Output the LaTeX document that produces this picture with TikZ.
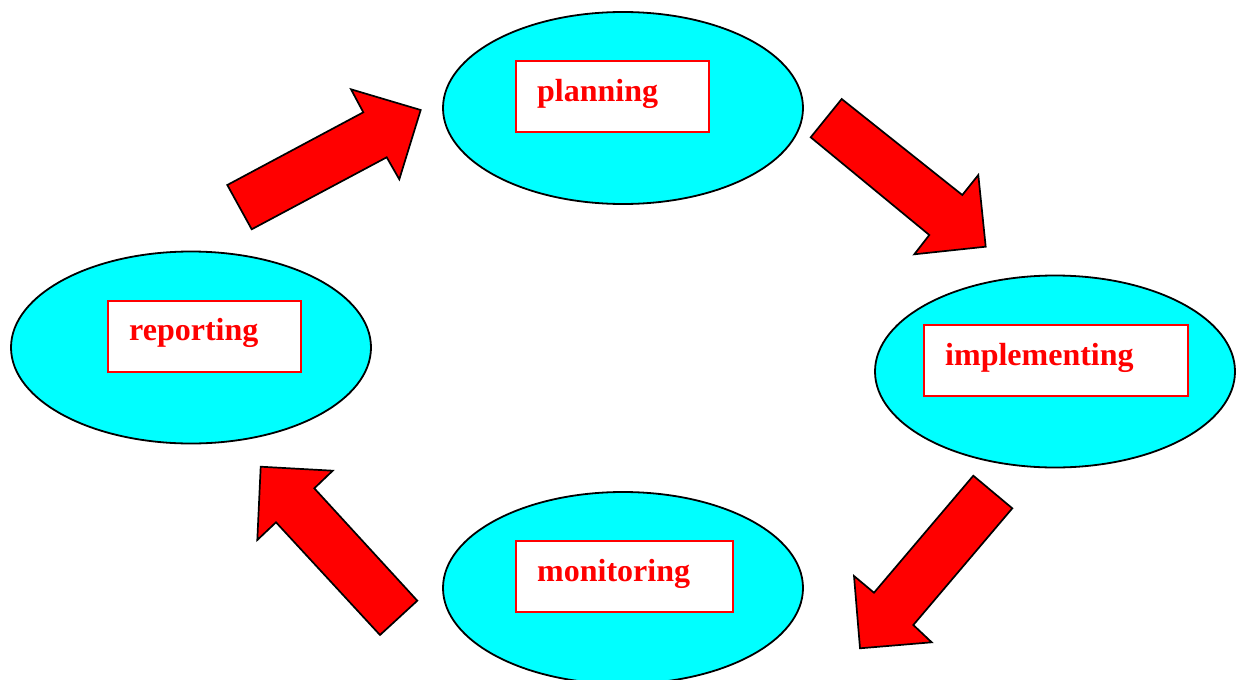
\documentclass[tikz,border=0pt]{standalone}
\usepackage{fontspec}
\setmainfont{Liberation Serif}
\usetikzlibrary{shapes.geometric}
\definecolor{cyanfill}{HTML}{00FFFF}
\definecolor{pured}{HTML}{FF0000}
\begin{document}
\begin{tikzpicture}[x=1pt,y=-1pt,
  stage/.style={ellipse,draw=black,line width=1.8pt,fill=cyanfill,minimum width=360pt,minimum height=192pt,inner sep=0pt},
  labelbox/.style={rectangle,draw=pured,line width=1.8pt,fill=white,minimum height=71pt,inner sep=0pt},
  labeltext/.style={anchor=base west,inner sep=0pt,text=pured,font=\fontsize{32}{36}\selectfont\bfseries},
  blockarrow/.style={draw=black,line width=1.7pt,fill=pured,line join=miter}]
\useasboundingbox (0,0) rectangle (1245,680);
% stages
\node[stage] (plan) at (623,108) {};
\node[stage] (impl) at (1055,371.5) {};
\node[stage] (moni) at (623,588) {};
\node[stage] (repo) at (191,347.5) {};
% label boxes
\node[labelbox,minimum width=193pt,anchor=north west] (planbox) at (515,60) {};
\node[labeltext] (plantext) at (537,101) {planning};
\node[labelbox,minimum width=264pt,anchor=north west] (implbox) at (923,324) {};
\node[labeltext] (impltext) at (945,365) {implementing};
\node[labelbox,minimum width=217pt,anchor=north west] (monibox) at (515,540) {};
\node[labeltext] (monitext) at (537,581) {monitoring};
\node[labelbox,minimum width=193pt,anchor=north west] (repobox) at (107,300) {};
\node[labeltext] (repotext) at (129,340) {reporting};
% block arrows
\draw[blockarrow] (227.3,185) -- (251.7,229.3) -- (386.7,157.3) -- (399.3,179.3) -- (420.7,110) -- (351,89.3) -- (363.3,112.3) -- cycle;
\draw[blockarrow] (841.7,99) -- (810.7,137.3) -- (929.3,235) -- (914.3,254.3) -- (985.7,246.7) -- (978.3,175) -- (962.3,195) -- cycle;
\draw[blockarrow] (973.3,475.7) -- (1012.3,508.3) -- (913.3,625) -- (931.7,642.3) -- (860,648.3) -- (854,576) -- (874,592.7) -- cycle;
\draw[blockarrow] (417.3,600.7) -- (380,635) -- (276,522.3) -- (257.3,540) -- (260.7,466.7) -- (332.7,470.7) -- (314.3,488.3) -- cycle;
\end{tikzpicture}
\end{document}
